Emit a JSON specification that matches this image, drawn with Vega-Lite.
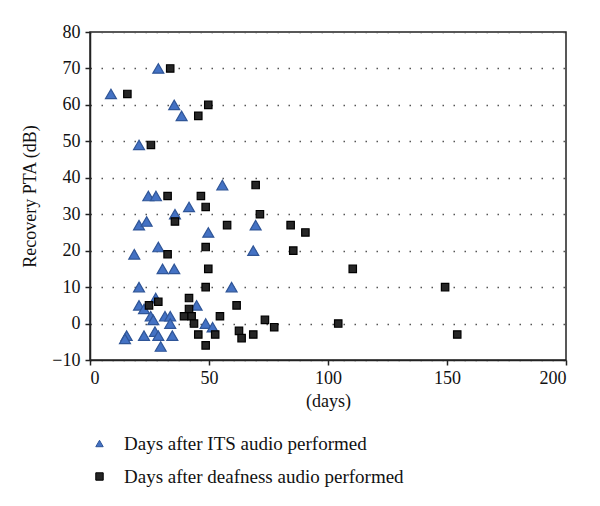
{
  "$schema": "https://vega.github.io/schema/vega-lite/v6.json",
  "autosize": "none",
  "width": 476,
  "height": 328,
  "padding": {"left": 90, "top": 32, "right": 34, "bottom": 146},
  "background": "white",
  "config": {
    "font": "'Liberation Serif', 'DejaVu Serif', serif",
    "view": {"stroke": "#222", "strokeWidth": 1.5},
    "legend": {"symbolSize": 55, "symbolStrokeWidth": 1}
  },
  "data": {
    "values": [
      {"days": 8.8, "pta": 63, "series": "Days after ITS audio performed"},
      {"days": 28.7, "pta": 70, "series": "Days after ITS audio performed"},
      {"days": 35.4, "pta": 60, "series": "Days after ITS audio performed"},
      {"days": 38.5, "pta": 57, "series": "Days after ITS audio performed"},
      {"days": 20.6, "pta": 49, "series": "Days after ITS audio performed"},
      {"days": 55.6, "pta": 38, "series": "Days after ITS audio performed"},
      {"days": 24.5, "pta": 35, "series": "Days after ITS audio performed"},
      {"days": 27.7, "pta": 35, "series": "Days after ITS audio performed"},
      {"days": 41.6, "pta": 32, "series": "Days after ITS audio performed"},
      {"days": 35.7, "pta": 30, "series": "Days after ITS audio performed"},
      {"days": 20.6, "pta": 27, "series": "Days after ITS audio performed"},
      {"days": 23.8, "pta": 28, "series": "Days after ITS audio performed"},
      {"days": 49.7, "pta": 25, "series": "Days after ITS audio performed"},
      {"days": 69.6, "pta": 27, "series": "Days after ITS audio performed"},
      {"days": 28.7, "pta": 21, "series": "Days after ITS audio performed"},
      {"days": 18.6, "pta": 19, "series": "Days after ITS audio performed"},
      {"days": 68.6, "pta": 20, "series": "Days after ITS audio performed"},
      {"days": 30.5, "pta": 15, "series": "Days after ITS audio performed"},
      {"days": 35.4, "pta": 15, "series": "Days after ITS audio performed"},
      {"days": 20.6, "pta": 10, "series": "Days after ITS audio performed"},
      {"days": 59.5, "pta": 10, "series": "Days after ITS audio performed"},
      {"days": 27.6, "pta": 7, "series": "Days after ITS audio performed"},
      {"days": 20.6, "pta": 5, "series": "Days after ITS audio performed"},
      {"days": 22.7, "pta": 4, "series": "Days after ITS audio performed"},
      {"days": 44.8, "pta": 5, "series": "Days after ITS audio performed"},
      {"days": 25.5, "pta": 2, "series": "Days after ITS audio performed"},
      {"days": 26.6, "pta": 1, "series": "Days after ITS audio performed"},
      {"days": 31.5, "pta": 2, "series": "Days after ITS audio performed"},
      {"days": 33.7, "pta": 2, "series": "Days after ITS audio performed"},
      {"days": 33.7, "pta": 0, "series": "Days after ITS audio performed"},
      {"days": 48.6, "pta": 0, "series": "Days after ITS audio performed"},
      {"days": 51.5, "pta": -1, "series": "Days after ITS audio performed"},
      {"days": 15.4, "pta": -3.3, "series": "Days after ITS audio performed"},
      {"days": 14.7, "pta": -4.2, "series": "Days after ITS audio performed"},
      {"days": 22.7, "pta": -3.3, "series": "Days after ITS audio performed"},
      {"days": 27.3, "pta": -2.2, "series": "Days after ITS audio performed"},
      {"days": 28.7, "pta": -3.3, "series": "Days after ITS audio performed"},
      {"days": 34.6, "pta": -3.3, "series": "Days after ITS audio performed"},
      {"days": 29.7, "pta": -6.3, "series": "Days after ITS audio performed"},
      {"days": 33.7, "pta": 70, "series": "Days after deafness audio performed"},
      {"days": 15.7, "pta": 63, "series": "Days after deafness audio performed"},
      {"days": 49.7, "pta": 60, "series": "Days after deafness audio performed"},
      {"days": 45.5, "pta": 57, "series": "Days after deafness audio performed"},
      {"days": 25.6, "pta": 49, "series": "Days after deafness audio performed"},
      {"days": 69.6, "pta": 38, "series": "Days after deafness audio performed"},
      {"days": 32.6, "pta": 35, "series": "Days after deafness audio performed"},
      {"days": 46.6, "pta": 35, "series": "Days after deafness audio performed"},
      {"days": 48.6, "pta": 32, "series": "Days after deafness audio performed"},
      {"days": 71.4, "pta": 30, "series": "Days after deafness audio performed"},
      {"days": 35.7, "pta": 28, "series": "Days after deafness audio performed"},
      {"days": 57.6, "pta": 27, "series": "Days after deafness audio performed"},
      {"days": 48.6, "pta": 21, "series": "Days after deafness audio performed"},
      {"days": 32.6, "pta": 19, "series": "Days after deafness audio performed"},
      {"days": 49.7, "pta": 15, "series": "Days after deafness audio performed"},
      {"days": 84.3, "pta": 27, "series": "Days after deafness audio performed"},
      {"days": 90.5, "pta": 25, "series": "Days after deafness audio performed"},
      {"days": 85.4, "pta": 20, "series": "Days after deafness audio performed"},
      {"days": 110.4, "pta": 15, "series": "Days after deafness audio performed"},
      {"days": 149.2, "pta": 10, "series": "Days after deafness audio performed"},
      {"days": 104.3, "pta": 0, "series": "Days after deafness audio performed"},
      {"days": 154.3, "pta": -3, "series": "Days after deafness audio performed"},
      {"days": 48.6, "pta": 10, "series": "Days after deafness audio performed"},
      {"days": 41.6, "pta": 7, "series": "Days after deafness audio performed"},
      {"days": 24.8, "pta": 5, "series": "Days after deafness audio performed"},
      {"days": 28.7, "pta": 6, "series": "Days after deafness audio performed"},
      {"days": 41.6, "pta": 4, "series": "Days after deafness audio performed"},
      {"days": 39.5, "pta": 2, "series": "Days after deafness audio performed"},
      {"days": 42.7, "pta": 2, "series": "Days after deafness audio performed"},
      {"days": 43.7, "pta": 0, "series": "Days after deafness audio performed"},
      {"days": 54.6, "pta": 2, "series": "Days after deafness audio performed"},
      {"days": 61.6, "pta": 5, "series": "Days after deafness audio performed"},
      {"days": 73.5, "pta": 1, "series": "Days after deafness audio performed"},
      {"days": 77.4, "pta": -1, "series": "Days after deafness audio performed"},
      {"days": 45.5, "pta": -3, "series": "Days after deafness audio performed"},
      {"days": 52.6, "pta": -3, "series": "Days after deafness audio performed"},
      {"days": 62.6, "pta": -2, "series": "Days after deafness audio performed"},
      {"days": 63.7, "pta": -4, "series": "Days after deafness audio performed"},
      {"days": 68.6, "pta": -3, "series": "Days after deafness audio performed"},
      {"days": 48.6, "pta": -6, "series": "Days after deafness audio performed"}
    ]
  },
  "encoding": {
    "x": {
      "field": "days", "type": "quantitative",
      "scale": {"domain": [0, 200], "nice": false, "zero": false},
      "axis": {
        "values": [0, 50, 100, 150, 200], "grid": false, "title": "(days)",
        "titleFont": "'Liberation Serif', 'DejaVu Serif', serif", "titleFontSize": 18, "titleFontWeight": "normal", "titleColor": "#111", "titlePadding": 5,
        "labelFont": "'Liberation Serif', 'DejaVu Serif', serif", "labelFontSize": 18, "labelColor": "#111", "labelPadding": 4,
        "domainColor": "#222", "domainWidth": 1.5, "tickColor": "#222", "tickWidth": 1.5, "tickSize": 5
      }
    },
    "y": {
      "field": "pta", "type": "quantitative",
      "scale": {"domain": [-10, 80], "nice": false, "zero": false},
      "axis": {
        "values": [-10, 0, 10, 20, 30, 40, 50, 60, 70, 80], "title": "Recovery PTA (dB)",
        "titleFont": "'Liberation Serif', 'DejaVu Serif', serif", "titleFontSize": 18, "titleFontWeight": "normal", "titleColor": "#111", "titlePadding": 12,
        "labelFont": "'Liberation Serif', 'DejaVu Serif', serif", "labelFontSize": 18, "labelColor": "#111", "labelPadding": 5,
        "domainColor": "#222", "domainWidth": 1.5, "tickColor": "#222", "tickWidth": 1.5, "tickSize": 5,
        "grid": true, "gridColor": "#555", "gridDash": [1.5, 9.5], "gridWidth": 1.5
      }
    },
    "shape": {
      "field": "series", "type": "nominal",
      "scale": {"domain": ["Days after ITS audio performed", "Days after deafness audio performed"], "range": ["triangle-up", "square"]},
      "legend": {
        "orient": "none", "legendX": 0, "legendY": 402, "title": null,
        "labelFont": "'Liberation Serif', 'DejaVu Serif', serif", "labelFontSize": 19, "labelColor": "#111",
        "symbolSize": 55, "rowPadding": 13, "labelOffset": 15, "labelLimit": 450
      }
    },
    "fill": {
      "field": "series", "type": "nominal",
      "scale": {"domain": ["Days after ITS audio performed", "Days after deafness audio performed"], "range": ["#4472C4", "#262626"]}
    },
    "stroke": {
      "field": "series", "type": "nominal",
      "scale": {"domain": ["Days after ITS audio performed", "Days after deafness audio performed"], "range": ["#2F5597", "#000000"]}
    }
  },
  "layer": [
    {
      "transform": [{"filter": "datum.series === 'Days after ITS audio performed'"}],
      "mark": {"type": "point", "filled": true, "strokeWidth": 1.2, "opacity": 1, "size": 120}
    },
    {
      "transform": [{"filter": "datum.series === 'Days after deafness audio performed'"}],
      "mark": {"type": "point", "filled": true, "strokeWidth": 1.2, "opacity": 1, "size": 55}
    }
  ]
}
